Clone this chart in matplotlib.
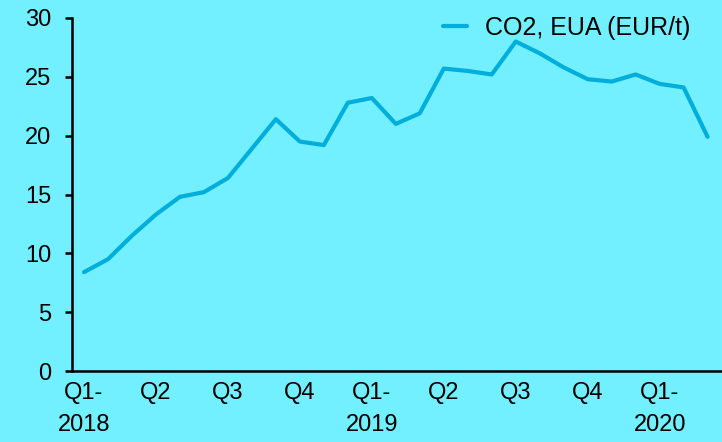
import numpy as np
import matplotlib.pyplot as plt

plt.rcParams['font.family'] = ['Liberation Sans', 'DejaVu Sans']

# Monthly EUA price, Jan 2018 - Mar 2020
eua = [8.4, 9.5, 11.5, 13.3, 14.8, 15.2, 16.4, 18.9, 21.4, 19.5, 19.2, 22.8,
       23.2, 21.0, 21.9, 25.7, 25.5, 25.2, 28.0, 27.0, 25.8, 24.8, 24.6, 25.2,
       24.4, 24.1, 19.9]
tick_pos = [0, 3, 6, 9, 12, 15, 18, 21, 24]
tick_labels = ['Q1-\n2018', 'Q2', 'Q3', 'Q4', 'Q1-\n2019', 'Q2', 'Q3', 'Q4', 'Q1-\n2020']

bg = '#72F0FF'
line_col = '#00AEDC'

fig = plt.figure(figsize=(7.22, 4.42), dpi=100, facecolor=bg)
ax = fig.add_axes([72/722, 1 - 371/442, 650/722, 353/442], facecolor=bg)

x = np.arange(len(eua))
ax.plot(x, eua, color=line_col, lw=3, label='CO2, EUA (EUR/t)', solid_capstyle='round')

ax.set_xlim(-0.5, 26.6)
ax.set_ylim(0, 30)
ax.set_yticks(range(0, 31, 5))
ax.set_xticks(tick_pos)
ax.set_xticklabels(tick_labels, linespacing=1.6, va='top')

for s in ['top', 'right']:
    ax.spines[s].set_visible(False)
for s in ['left', 'bottom']:
    ax.spines[s].set_linewidth(1.8)
    ax.spines[s].set_color('black')

ax.tick_params(axis='y', length=5, width=1.8, pad=10, labelsize=17)
ax.tick_params(axis='x', length=0, pad=8, labelsize=17)

ax.legend(loc='upper right', frameon=False, fontsize=18, handlelength=0.95,
          handletextpad=0.7, borderaxespad=0.0, bbox_to_anchor=(0.966, 1.035))

fig.savefig('out.png', dpi=100, facecolor=bg)
